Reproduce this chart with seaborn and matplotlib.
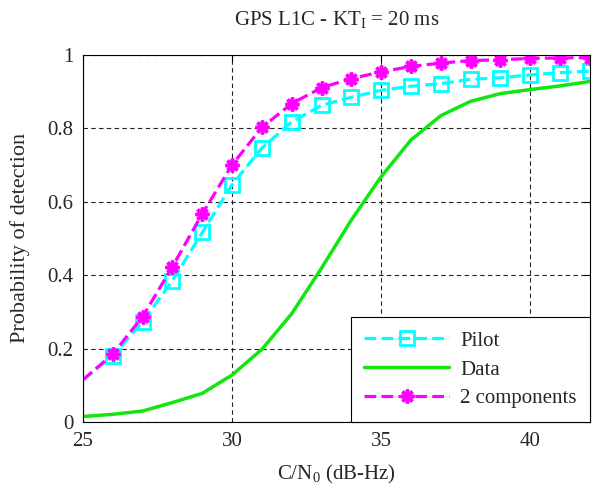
import numpy as np
import pandas as pd
import matplotlib
matplotlib.use("Agg")
import matplotlib.pyplot as plt
from matplotlib.ticker import FixedLocator, FormatStrFormatter
import seaborn as sns

# values
cn0 = [25, 26, 27, 28, 29, 30, 31, 32, 33, 34, 35, 36, 37, 38, 39, 40, 41, 42]
pilot = [0.115, 0.180, 0.273, 0.385, 0.516, 0.646, 0.746, 0.817, 0.862, 0.884,
         0.903, 0.914, 0.921, 0.933, 0.937, 0.945, 0.951, 0.955]
data_comp = [0.015, 0.021, 0.030, 0.053, 0.078, 0.128, 0.198, 0.295, 0.419, 0.550,
             0.668, 0.768, 0.834, 0.873, 0.894, 0.905, 0.915, 0.927]
two_comp = [0.115, 0.185, 0.287, 0.423, 0.567, 0.700, 0.802, 0.867, 0.910, 0.935,
            0.953, 0.968, 0.977, 0.984, 0.986, 0.990, 0.991, 0.992]

x_ticks = [25, 30, 35, 40]
y_ticks = [0, 0.2, 0.4, 0.6, 0.8, 1]

df = pd.DataFrame({"cn0": cn0, "Pilot": pilot, "Data": data_comp, "2 components": two_comp})

sns.set_style("white")
plt.rcParams["font.family"] = ["Liberation Serif", "DejaVu Serif"]
plt.rcParams["mathtext.fontset"] = "custom"
plt.rcParams["mathtext.rm"] = "Liberation Serif"

fig = plt.figure(figsize=(5.95, 4.88), dpi=100)
ax = fig.add_axes([0.1395, 0.1352, 0.852, 0.7528])

# markers skip the first point (line starts at the axis edge without a marker)
mk = list(range(1, len(cn0)))

sns.lineplot(data=df, x="cn0", y="Pilot", ax=ax, color="#00ffff", lw=2.3,
             linestyle="--", marker="s", markersize=10, markerfacecolor="none",
             markeredgecolor="#00ffff", markeredgewidth=2.0, markevery=mk,
             label="Pilot")
sns.lineplot(data=df, x="cn0", y="Data", ax=ax, color="#11e611", lw=2.5,
             linestyle="-", label="Data")
sns.lineplot(data=df, x="cn0", y="2 components", ax=ax, color="#ff00ff", lw=2.3,
             linestyle="--", marker=(8, 2, 0), markersize=10,
             markeredgecolor="#ff00ff", markeredgewidth=2.5, markevery=mk,
             label="2 components")

ax.set_xlim(25, 42)
ax.set_ylim(0, 1)
ax.xaxis.set_major_locator(FixedLocator(x_ticks))
ax.yaxis.set_major_locator(FixedLocator(y_ticks))
ax.yaxis.set_major_formatter(FormatStrFormatter("%g"))
ax.tick_params(direction="in", length=4, labelsize=15, top=True, right=True,
               color="black", pad=7)
ax.grid(True, color="#222222", linestyle=(0, (4, 3)), linewidth=0.8)
for s in ax.spines.values():
    s.set_color("black")
    s.set_linewidth(0.8)

ax.set_xlabel("C/N$_0$ (dB-Hz)", fontsize=15, labelpad=9)
ax.set_ylabel("Probability of detection", fontsize=16, labelpad=12)
ax.set_title("GPS L1C - KT$_\\mathrm{I}$ = 20 ms", fontsize=15, pad=21)

leg = ax.legend(loc="lower right", fontsize=15, frameon=True, fancybox=False,
                borderaxespad=0, handlelength=4.1, handletextpad=0.5,
                edgecolor="black", framealpha=1, borderpad=0.65,
                labelspacing=0.45)
leg.get_frame().set_linewidth(0.8)

fig.savefig("out.png", dpi=100)
